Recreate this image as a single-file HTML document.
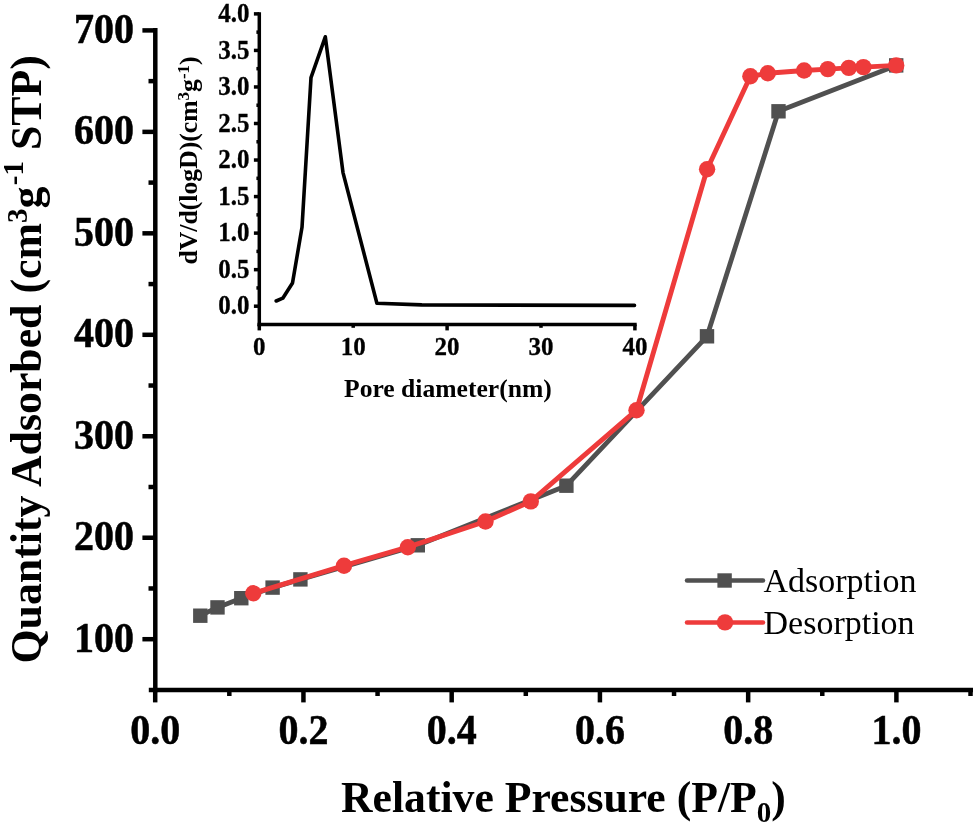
<!DOCTYPE html><html><head><meta charset="utf-8"><style>html,body{margin:0;padding:0;background:#fff;width:973px;height:834px;overflow:hidden}svg{display:block;will-change:transform}text{font-family:"Liberation Serif",serif}.bt text,text.bt{stroke:#000;stroke-width:0.5}</style></head><body>
<svg width="973" height="834" viewBox="0 0 973 834">
<g stroke="#000" stroke-width="4.5" fill="none">
<line x1="155.3" y1="28" x2="155.3" y2="692.2"/>
<line x1="148.8" y1="690" x2="973" y2="690"/>
<line x1="142.4" y1="639.20" x2="155.3" y2="639.20"/>
<line x1="142.4" y1="537.73" x2="155.3" y2="537.73"/>
<line x1="142.4" y1="436.27" x2="155.3" y2="436.27"/>
<line x1="142.4" y1="334.80" x2="155.3" y2="334.80"/>
<line x1="142.4" y1="233.33" x2="155.3" y2="233.33"/>
<line x1="142.4" y1="131.87" x2="155.3" y2="131.87"/>
<line x1="142.4" y1="30.40" x2="155.3" y2="30.40"/>
<line x1="148.5" y1="588.47" x2="155.3" y2="588.47"/>
<line x1="148.5" y1="487.00" x2="155.3" y2="487.00"/>
<line x1="148.5" y1="385.53" x2="155.3" y2="385.53"/>
<line x1="148.5" y1="284.07" x2="155.3" y2="284.07"/>
<line x1="148.5" y1="182.60" x2="155.3" y2="182.60"/>
<line x1="148.5" y1="81.13" x2="155.3" y2="81.13"/>
<line x1="155.20" y1="690" x2="155.20" y2="702.4"/>
<line x1="303.44" y1="690" x2="303.44" y2="702.4"/>
<line x1="451.68" y1="690" x2="451.68" y2="702.4"/>
<line x1="599.92" y1="690" x2="599.92" y2="702.4"/>
<line x1="748.16" y1="690" x2="748.16" y2="702.4"/>
<line x1="896.40" y1="690" x2="896.40" y2="702.4"/>
<line x1="229.32" y1="690" x2="229.32" y2="696"/>
<line x1="377.56" y1="690" x2="377.56" y2="696"/>
<line x1="525.80" y1="690" x2="525.80" y2="696"/>
<line x1="674.04" y1="690" x2="674.04" y2="696"/>
<line x1="822.28" y1="690" x2="822.28" y2="696"/>
<line x1="970.52" y1="690" x2="970.52" y2="696"/>
</g>
<g class="bt" font-weight="bold" font-size="40" fill="#000">
<text transform="translate(134 651.60) scale(1 1.03)" text-anchor="end">100</text>
<text transform="translate(134 550.13) scale(1 1.03)" text-anchor="end">200</text>
<text transform="translate(134 448.67) scale(1 1.03)" text-anchor="end">300</text>
<text transform="translate(134 347.20) scale(1 1.03)" text-anchor="end">400</text>
<text transform="translate(134 245.73) scale(1 1.03)" text-anchor="end">500</text>
<text transform="translate(134 144.27) scale(1 1.03)" text-anchor="end">600</text>
<text transform="translate(134 42.80) scale(1 1.03)" text-anchor="end">700</text>
<text transform="translate(155.20 743.6) scale(1 1.03)" text-anchor="middle">0.0</text>
<text transform="translate(303.44 743.6) scale(1 1.03)" text-anchor="middle">0.2</text>
<text transform="translate(451.68 743.6) scale(1 1.03)" text-anchor="middle">0.4</text>
<text transform="translate(599.92 743.6) scale(1 1.03)" text-anchor="middle">0.6</text>
<text transform="translate(748.16 743.6) scale(1 1.03)" text-anchor="middle">0.8</text>
<text transform="translate(896.40 743.6) scale(1 1.03)" text-anchor="middle">1.0</text>
</g>
<text font-weight="bold" font-size="43.7" x="341" y="812">Relative Pressure (P/P<tspan font-size="29" dy="10">0</tspan><tspan dy="-10">)</tspan></text>
<text font-weight="bold" font-size="43.8" transform="translate(40.8 663.5) rotate(-90)">Quantity Adsorbed (cm<tspan font-size="29" dy="-14">3</tspan><tspan dy="14">g</tspan><tspan font-size="29" dy="-17.5" dx="1.5">-1</tspan><tspan dy="17.5"> STP)</tspan></text>
<polyline points="200.3,615.7 217.5,607.4 241.3,598.2 272.6,587.6 300.4,579.4 417.8,545.3 566.4,485.7 707.0,336.3 778.5,111.3 896.2,65.4" fill="none" stroke="#505050" stroke-width="4.8" stroke-linejoin="round" stroke-linecap="round"/>
<rect x="193.10" y="608.50" width="14.4" height="14.4" fill="#505050"/>
<rect x="210.30" y="600.20" width="14.4" height="14.4" fill="#505050"/>
<rect x="234.10" y="591.00" width="14.4" height="14.4" fill="#505050"/>
<rect x="265.40" y="580.40" width="14.4" height="14.4" fill="#505050"/>
<rect x="293.20" y="572.20" width="14.4" height="14.4" fill="#505050"/>
<rect x="410.60" y="538.10" width="14.4" height="14.4" fill="#505050"/>
<rect x="559.20" y="478.50" width="14.4" height="14.4" fill="#505050"/>
<rect x="699.80" y="329.10" width="14.4" height="14.4" fill="#505050"/>
<rect x="771.30" y="104.10" width="14.4" height="14.4" fill="#505050"/>
<rect x="889.00" y="58.20" width="14.4" height="14.4" fill="#505050"/>
<polyline points="253.3,593.3 344.0,565.7 407.8,547.2 485.5,521.5 530.8,501.4 636.5,410.2 707.1,169.2 750.4,76.3 767.8,73.3 804.1,70.5 827.8,69.1 848.8,67.9 863.4,67.1 896.2,65.4" fill="none" stroke="#ee3b3b" stroke-width="4.9" stroke-linejoin="round" stroke-linecap="round"/>
<circle cx="253.3" cy="593.3" r="8.2" fill="#ee3b3b"/>
<circle cx="344.0" cy="565.7" r="8.2" fill="#ee3b3b"/>
<circle cx="407.8" cy="547.2" r="8.2" fill="#ee3b3b"/>
<circle cx="485.5" cy="521.5" r="8.2" fill="#ee3b3b"/>
<circle cx="530.8" cy="501.4" r="8.2" fill="#ee3b3b"/>
<circle cx="636.5" cy="410.2" r="8.2" fill="#ee3b3b"/>
<circle cx="707.1" cy="169.2" r="8.2" fill="#ee3b3b"/>
<circle cx="750.4" cy="76.3" r="8.2" fill="#ee3b3b"/>
<circle cx="767.8" cy="73.3" r="8.2" fill="#ee3b3b"/>
<circle cx="804.1" cy="70.5" r="8.2" fill="#ee3b3b"/>
<circle cx="827.8" cy="69.1" r="8.2" fill="#ee3b3b"/>
<circle cx="848.8" cy="67.9" r="8.2" fill="#ee3b3b"/>
<circle cx="863.4" cy="67.1" r="8.2" fill="#ee3b3b"/>
<circle cx="896.2" cy="65.4" r="8.2" fill="#ee3b3b"/>
<line x1="687" y1="580.5" x2="763" y2="580.5" stroke="#505050" stroke-width="4.5" stroke-linecap="round"/>
<rect x="717.4" y="573.3" width="14.4" height="14.4" fill="#505050"/>
<line x1="687" y1="622.5" x2="763" y2="622.5" stroke="#ee3b3b" stroke-width="4.5" stroke-linecap="round"/>
<circle cx="725" cy="622.4" r="8.2" fill="#ee3b3b"/>
<g font-size="34" fill="#000">
<text x="763.5" y="592.2">Adsorption</text>
<text x="763.5" y="634">Desorption</text>
</g>
<g stroke="#000" stroke-width="3.5" fill="none">
<line x1="259.3" y1="12.2" x2="259.3" y2="326.2"/>
<line x1="257.5" y1="324.5" x2="636.7" y2="324.5"/>
<line x1="253.9" y1="306.20" x2="259.3" y2="306.20"/>
<line x1="253.9" y1="269.66" x2="259.3" y2="269.66"/>
<line x1="253.9" y1="233.12" x2="259.3" y2="233.12"/>
<line x1="253.9" y1="196.58" x2="259.3" y2="196.58"/>
<line x1="253.9" y1="160.04" x2="259.3" y2="160.04"/>
<line x1="253.9" y1="123.50" x2="259.3" y2="123.50"/>
<line x1="253.9" y1="86.96" x2="259.3" y2="86.96"/>
<line x1="253.9" y1="50.42" x2="259.3" y2="50.42"/>
<line x1="253.9" y1="13.88" x2="259.3" y2="13.88"/>
<line x1="256.4" y1="287.93" x2="259.3" y2="287.93"/>
<line x1="256.4" y1="251.39" x2="259.3" y2="251.39"/>
<line x1="256.4" y1="214.85" x2="259.3" y2="214.85"/>
<line x1="256.4" y1="178.31" x2="259.3" y2="178.31"/>
<line x1="256.4" y1="141.77" x2="259.3" y2="141.77"/>
<line x1="256.4" y1="105.23" x2="259.3" y2="105.23"/>
<line x1="256.4" y1="68.69" x2="259.3" y2="68.69"/>
<line x1="256.4" y1="32.15" x2="259.3" y2="32.15"/>
<line x1="259.30" y1="324.5" x2="259.30" y2="330.4"/>
<line x1="353.20" y1="324.5" x2="353.20" y2="327.8"/>
<line x1="447.10" y1="324.5" x2="447.10" y2="330.4"/>
<line x1="541.00" y1="324.5" x2="541.00" y2="327.8"/>
<line x1="634.90" y1="324.5" x2="634.90" y2="330.4"/>
</g>
<g font-weight="bold" font-size="25" fill="#000" stroke="#000" stroke-width="0.3">
<text transform="translate(249.6 314.40) scale(1 1.05)" text-anchor="end">0.0</text>
<text transform="translate(249.6 277.86) scale(1 1.05)" text-anchor="end">0.5</text>
<text transform="translate(249.6 241.32) scale(1 1.05)" text-anchor="end">1.0</text>
<text transform="translate(249.6 204.78) scale(1 1.05)" text-anchor="end">1.5</text>
<text transform="translate(249.6 168.24) scale(1 1.05)" text-anchor="end">2.0</text>
<text transform="translate(249.6 131.70) scale(1 1.05)" text-anchor="end">2.5</text>
<text transform="translate(249.6 95.16) scale(1 1.05)" text-anchor="end">3.0</text>
<text transform="translate(249.6 58.62) scale(1 1.05)" text-anchor="end">3.5</text>
<text transform="translate(249.6 22.08) scale(1 1.05)" text-anchor="end">4.0</text>
<text transform="translate(259.30 355) scale(1 1.03)" text-anchor="middle">0</text>
<text transform="translate(353.20 355) scale(1 1.03)" text-anchor="middle">10</text>
<text transform="translate(447.10 355) scale(1 1.03)" text-anchor="middle">20</text>
<text transform="translate(541.00 355) scale(1 1.03)" text-anchor="middle">30</text>
<text transform="translate(634.90 355) scale(1 1.03)" text-anchor="middle">40</text>
</g>
<text font-weight="bold" font-size="25.6" x="344" y="396.7">Pore diameter(nm)</text>
<text font-weight="bold" font-size="25.7" transform="translate(196.6 264.5) rotate(-90)">dV/d(logD)(cm<tspan font-size="17" dy="-8">3</tspan><tspan dy="8">g</tspan><tspan font-size="17" dy="-8">-1</tspan><tspan dy="8">)</tspan></text>
<polyline points="276.2,301.0 282.8,298.2 292.5,283.0 302.0,227.3 311.0,77.6 325.3,36.8 343.0,172.6 376.9,303.2 421.8,304.9 634.5,305.4" fill="none" stroke="#000" stroke-width="3.6" stroke-linejoin="round" stroke-linecap="round"/>
</svg></body></html>
